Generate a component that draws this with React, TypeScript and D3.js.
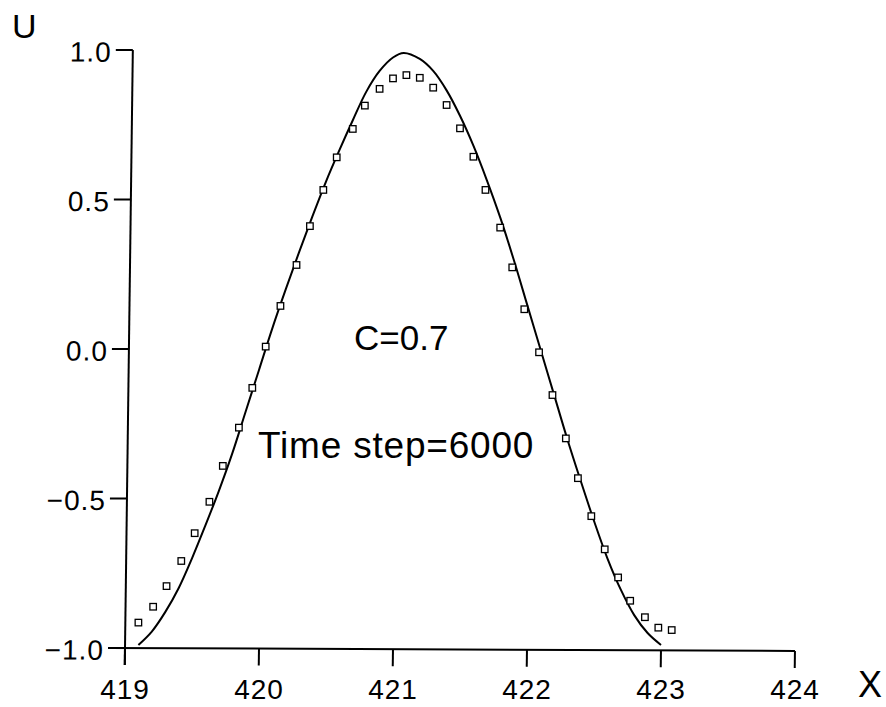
import React from "react";
import * as d3 from "d3";

// Numerical solution (square markers)
const markerX = [
  419.10, 419.21, 419.31, 419.42, 419.52, 419.63, 419.73, 419.85, 419.95, 420.05,
  420.16, 420.28, 420.38, 420.48, 420.58, 420.70, 420.79, 420.90, 421.00, 421.10,
  421.20, 421.30, 421.40, 421.50, 421.60, 421.69, 421.80, 421.89, 421.98, 422.09,
  422.19, 422.29, 422.38, 422.48, 422.58, 422.68, 422.77, 422.88, 422.98, 423.08,
];
const markerU = [
  -0.915, -0.862, -0.793, -0.709, -0.616, -0.511, -0.391, -0.263, -0.130, 0.008,
  0.144, 0.281, 0.411, 0.532, 0.641, 0.736, 0.814, 0.870, 0.905, 0.916,
  0.907, 0.874, 0.816, 0.738, 0.643, 0.532, 0.406, 0.273, 0.133, -0.011,
  -0.154, -0.299, -0.432, -0.559, -0.670, -0.764, -0.842, -0.897, -0.932, -0.940,
];

// Exact solution (solid curve)
const curveX = [
  419.10, 419.20, 419.30, 419.40, 419.50, 419.60, 419.70, 419.80, 419.90, 420.00,
  420.10, 420.20, 420.30, 420.40, 420.50, 420.60, 420.70, 420.80, 420.90, 421.00,
  421.08, 421.20, 421.30, 421.40, 421.50, 421.60, 421.70, 421.80, 421.90, 422.00,
  422.10, 422.20, 422.30, 422.40, 422.50, 422.60, 422.70, 422.80, 422.90, 423.00,
];
const curveU = [
  -0.99, -0.945, -0.88, -0.80, -0.70, -0.59, -0.475, -0.35, -0.21, -0.07,
  0.07, 0.20, 0.325, 0.445, 0.56, 0.665, 0.765, 0.86, 0.93, 0.975,
  0.99, 0.97, 0.93, 0.865, 0.78, 0.68, 0.565, 0.44, 0.30, 0.15,
  0.0, -0.15, -0.30, -0.44, -0.575, -0.70, -0.805, -0.89, -0.95, -0.99,
];

const xTicks = [419, 420, 421, 422, 423, 424];
const yTicks = [-1.0, -0.5, 0.0, 0.5, 1.0];
const yTickLabels = ["\u22121.0", "\u22120.5", "0.0", "0.5", "1.0"];
const xTitle = "X";
const yTitle = "U";
const annotations = ["C=0.7", "Time step=6000"];

const W = 886;
const H = 707;
const FONT = "'Liberation Sans', Arial, Helvetica, sans-serif";

export default function App() {
  const x = d3.scaleLinear().domain([419, 424]).range([125, 795]);
  const y = d3.scaleLinear().domain([-1, 1]).range([648, 50]);

  const line = d3
    .line<number>()
    .x((_, i) => x(curveX[i]))
    .y((d) => y(d))
    .curve(d3.curveCatmullRom.alpha(0.5));

  const x0 = x(419);
  const y0 = y(-1);
  const tick = 17;
  const ms = 6.5;
  // slight skew of the scanned frame
  const frame = `translate(${x0},${y0}) skewX(-0.75) skewY(0.25) translate(${-x0},${-y0})`;

  return (
    <svg
      width={W}
      height={H}
      viewBox={`0 0 ${W} ${H}`}
      style={{ position: "absolute", left: 0, top: 0, background: "#fff" }}
    >
      <rect x={0} y={0} width={W} height={H} fill="#fff" />
      <g transform={frame}>
        <line x1={x0} y1={y(1)} x2={x0} y2={y0 + tick} stroke="#000" strokeWidth={2} />
        <line x1={x0 - tick} y1={y0} x2={x(424)} y2={y0} stroke="#000" strokeWidth={2} />
        {yTicks.map((t, i) => (
          <g key={"yt" + i}>
            <line x1={x0 - tick} x2={x0} y1={y(t)} y2={y(t)} stroke="#000" strokeWidth={2} />
            <text
              x={x0 - 21}
              y={y(t) + 2}
              dy="0.35em"
              textAnchor="end"
              fontFamily={FONT}
              fontSize={28}
              letterSpacing={1}
              fill="#000"
            >
              {yTickLabels[i]}
            </text>
          </g>
        ))}
        {xTicks.map((t, i) => (
          <line
            key={"xt" + i}
            x1={x(t)}
            x2={x(t)}
            y1={y0}
            y2={y0 + tick}
            stroke="#000"
            strokeWidth={2}
          />
        ))}
      </g>
      {xTicks.map((t, i) => (
        <text
          key={"xl" + i}
          x={x(t)}
          y={699}
          textAnchor="middle"
          fontFamily={FONT}
          fontSize={28}
          letterSpacing={1}
          fill="#000"
        >
          {t}
        </text>
      ))}
      <text x={12} y={38} fontFamily={FONT} fontSize={34} fill="#000">
        {yTitle}
      </text>
      <text x={858} y={697} fontFamily={FONT} fontSize={36} fill="#000">
        {xTitle}
      </text>

      {/* exact curve */}
      <path d={line(curveU) || ""} fill="none" stroke="#000" strokeWidth={2} />

      {/* numerical markers */}
      {markerU.map((u, i) => (
        <rect
          key={"m" + i}
          x={x(markerX[i]) - ms / 2}
          y={y(u) - ms / 2}
          width={ms}
          height={ms}
          fill="#fff"
          stroke="#000"
          strokeWidth={1.3}
        />
      ))}

      {/* annotations */}
      <text x={354} y={350} fontFamily={FONT} fontSize={35} fill="#000">
        {annotations[0]}
      </text>
      <text x={258} y={458} fontFamily={FONT} fontSize={37} letterSpacing={0.8} fill="#000">
        {annotations[1]}
      </text>
    </svg>
  );
}
